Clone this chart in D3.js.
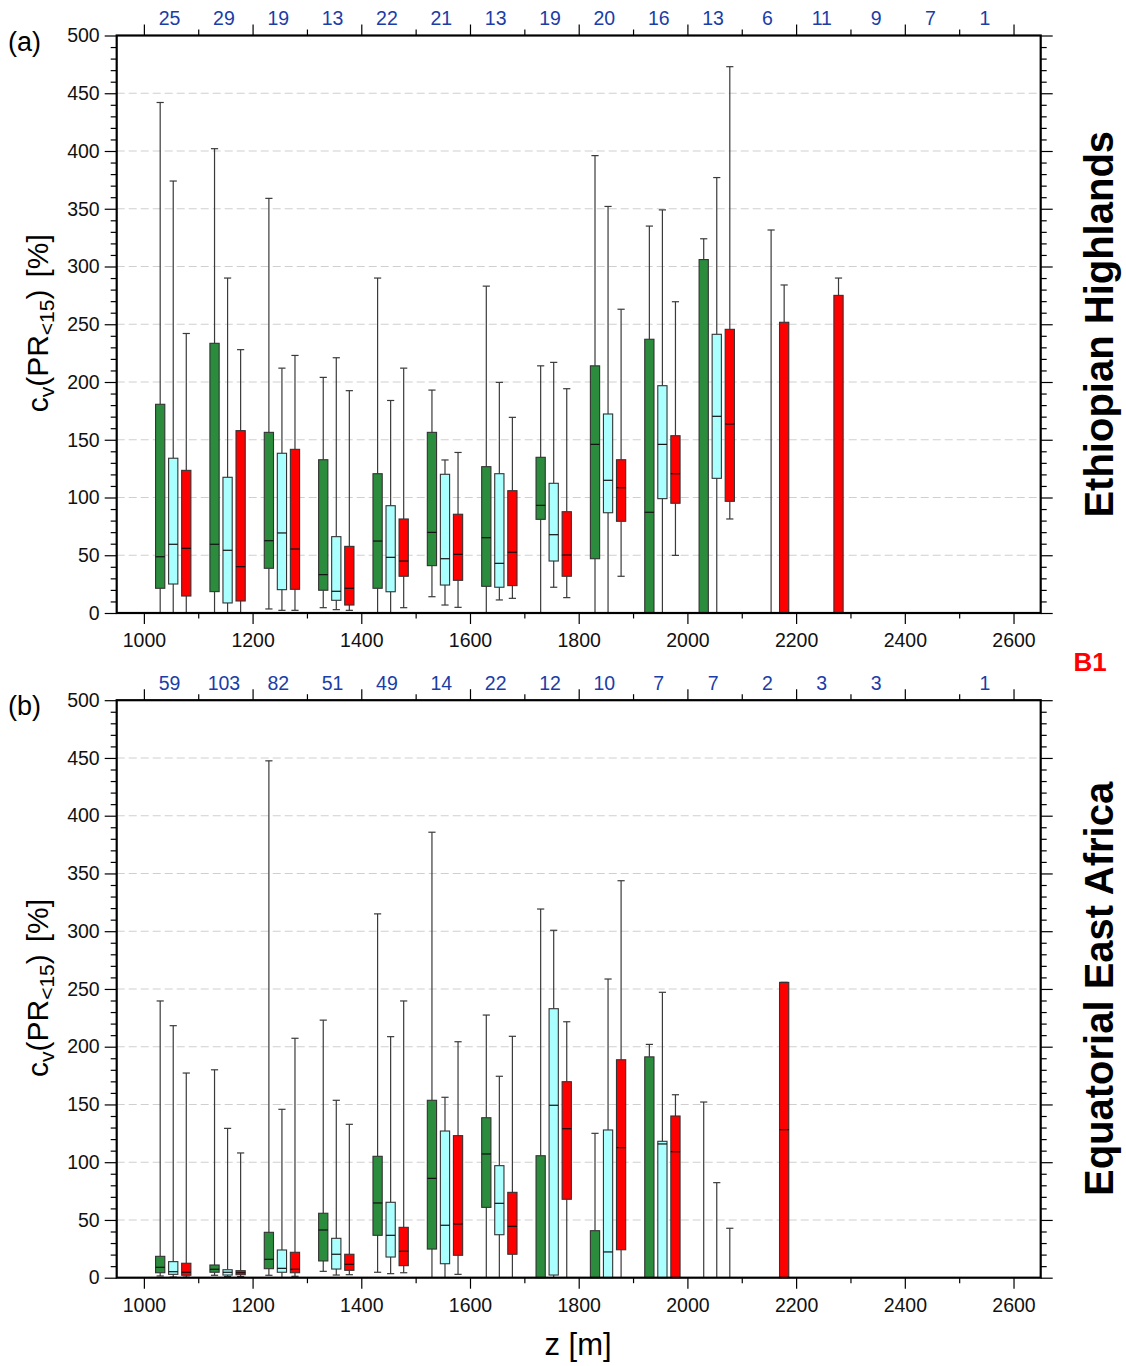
<!DOCTYPE html>
<html>
<head>
<meta charset="utf-8">
<script src="https://cdn.jsdelivr.net/npm/d3@7"></script>
<style>
  html, body { margin: 0; padding: 0; background: #fff; }
  svg { display: block; font-family: "Liberation Sans", Arial, sans-serif; }
</style>
</head>
<body>
<svg id="chart" width="1126" height="1366"></svg>
<script>
// ---------------- DATA ----------------
// altitude bins (lower edge, m)
const bins = [1000, 1100, 1200, 1300, 1400, 1500, 1600, 1700, 1800, 1900, 2000, 2100, 2200, 2300, 2400, 2500];
const xTicksMajor = [1000, 1200, 1400, 1600, 1800, 2000, 2200, 2400, 2600];
const yTicksMajor = [0, 50, 100, 150, 200, 250, 300, 350, 400, 450, 500];
const seriesNames = ["green", "cyan", "red"];

// station counts per bin
const countsA = ["25", "29", "19", "13", "22", "21", "13", "19", "20", "16", "13", "6", "11", "9", "7", "1"];
const countsB = ["59", "103", "82", "51", "49", "14", "22", "12", "10", "7", "7", "2", "3", "3", "", "1"];

// box statistics per bin: [min, q1, median, q3, max]  (cv in %)
const Z = [0, 0, 0, 0, 0];
const aGreen = [
  [0, 21.4, 48.7, 180.7, 442], [0, 18.5, 59.5, 233.5, 402], [3.5, 38.7, 62.6, 156.4, 359],
  [4.6, 19.7, 33.2, 132.7, 204], [0, 21.4, 62.3, 120.6, 290], [14.1, 41, 69.8, 156.4, 193],
  [0, 23.1, 65.2, 126.7, 283], [0, 81.1, 93.2, 134.8, 214], [0, 47, 146, 214, 396],
  [0, 0, 87.2, 237, 335], [0, 0, 0, 306, 324], Z, Z, Z, Z, Z];
const aCyan = [
  [0, 25.1, 59.5, 134, 374], [0, 8.7, 54.3, 117.5, 290], [2.3, 20.2, 69.3, 138.3, 212],
  [2.9, 11, 18.8, 66.1, 221], [0, 18.4, 48.2, 92.9, 184], [6.9, 24.2, 47, 120.1, 132.5],
  [11.3, 22.3, 43, 120.6, 199.7], [22.3, 45, 67.8, 112.3, 217], [0, 86.8, 114.9, 172.3, 352],
  [0, 99, 146, 196.8, 349], [0, 116.6, 170.3, 241.3, 377], [0, 0, 0, 0, 331.6], Z, Z, Z, Z];
const aRed = [
  [0, 14.7, 56, 123.5, 242], [0, 10.4, 40.1, 157.9, 228], [2.3, 20.5, 55.4, 141.7, 223],
  [2.3, 6.9, 21.4, 57.7, 192.5], [4.6, 31.8, 45, 81.4, 212], [4.9, 28.3, 50.8, 85.5, 139],
  [12.7, 23.7, 52.6, 105.9, 169.4], [13.3, 31.8, 50.2, 87.7, 194.2], [31.8, 79.4, 108.5, 132.7, 263],
  [49.9, 95, 120.6, 153.5, 269.5], [81.4, 96.7, 163.6, 245.6, 473], [0, 0, 0, 251.7, 284],
  [0, 0, 0, 275, 290], Z, Z, Z];

const bGreen = [
  [1.5, 4.3, 9, 18.5, 239.6], [2.1, 4.7, 7.3, 11, 180], [2.1, 7.8, 15.9, 39.3, 447.5],
  [5.5, 14.5, 41.3, 55.8, 223], [4.7, 36.7, 64.7, 105.1, 315], [0, 24.8, 86, 153.6, 385.7],
  [0, 60.9, 107.1, 138.5, 227.4], [0, 0, 0, 105.6, 319.2], [0, 0, 0, 40.7, 125],
  [0, 0, 0, 191.2, 202], [0, 0, 0, 0, 152.1], Z, Z, Z, Z, Z];
const bCyan = [
  [0.5, 2.9, 5.2, 13.9, 218.2], [1, 2.3, 4.7, 6.9, 129.3], [0, 4.7, 8.1, 24, 145.8],
  [2.3, 7.5, 20.3, 34.1, 153.6], [3.5, 17.9, 36.7, 65.3, 208.7], [0, 12.1, 45.4, 127, 156.2],
  [0, 37.2, 64.4, 97, 174.4], [0, 2.3, 149.3, 232.9, 300.8], [0, 0, 22.3, 127.9, 258.6],
  [0, 0, 115.8, 118.1, 247.1], [0, 0, 0, 0, 82.3], Z, Z, Z, Z, Z];
const bRed = [
  [0.5, 2.1, 4.7, 12.5, 177.2], [1, 2.6, 4.3, 6.1, 108], [1.2, 4.3, 7.3, 22, 207.3],
  [2.6, 6.4, 11.6, 20.3, 132.8], [4.3, 10.4, 22.9, 43.6, 239.6], [2.9, 19.4, 46.5, 123, 204.3],
  [0, 20.3, 44.5, 73.9, 209], [0, 67.9, 129, 169.7, 221.6], [0, 24.2, 112.6, 188.7, 343.7],
  [0, 0, 109.1, 140, 158.4], [0, 0, 0, 0, 42.8], [0, 0, 128.2, 255.7, 255.7], Z, Z, Z, Z];

// ---------------- STYLE / LAYOUT ----------------
const colors = { green: "#2a8c3c", cyan: "#aaffff", red: "#ff0000" };
const seriesOffset = { green: 30, cyan: 54, red: 78 };   // metres from bin lower edge
const boxWidthM = 17;
const font = '"Liberation Sans", Arial, sans-serif';
const svg = d3.select("#chart");

const x = d3.scaleLinear().domain([950, 2650]).range([116.7, 1040.7]);

const panels = [
  { id: "a", label: "(a)", top: 35.5, bottom: 613, counts: countsA,
    data: { green: aGreen, cyan: aCyan, red: aRed }, region: "Ethiopian Highlands" },
  { id: "b", label: "(b)", top: 700.2, bottom: 1277.7, counts: countsB,
    data: { green: bGreen, cyan: bCyan, red: bRed }, region: "Equatorial East Africa" }
];

panels.forEach(p => {
  const y = d3.scaleLinear().domain([0, 500]).range([p.bottom, p.top]);
  const g = svg.append("g");

  // grid
  g.append("g").selectAll("line").data(yTicksMajor.filter(v => v > 0 && v < 500)).join("line")
    .attr("x1", x(950)).attr("x2", x(2650))
    .attr("y1", d => y(d)).attr("y2", d => y(d))
    .attr("stroke", "#cfcfcf").attr("stroke-width", 1.1).attr("stroke-dasharray", "8,4");

  // boxes
  seriesNames.forEach(s => {
    const arr = p.data[s];
    const gs = g.append("g");
    arr.forEach((st, i) => {
      const [mn, q1, md, q3, mx] = st;
      if (mx <= 0) return;
      const cx = x(bins[i] + seriesOffset[s]);
      const hw = (x(bins[i] + seriesOffset[s] + boxWidthM / 2) - cx);
      // whiskers
      gs.append("line").attr("x1", cx).attr("x2", cx).attr("y1", y(mx)).attr("y2", y(q3))
        .attr("stroke", "#3a3a3a").attr("stroke-width", 1.2);
      gs.append("line").attr("x1", cx).attr("x2", cx).attr("y1", y(q1)).attr("y2", y(mn))
        .attr("stroke", "#3a3a3a").attr("stroke-width", 1.2);
      gs.append("line").attr("x1", cx - 3.6).attr("x2", cx + 3.6).attr("y1", y(mx)).attr("y2", y(mx))
        .attr("stroke", "#3a3a3a").attr("stroke-width", 1.2);
      if (mn > 0) {
        gs.append("line").attr("x1", cx - 3.6).attr("x2", cx + 3.6).attr("y1", y(mn)).attr("y2", y(mn))
          .attr("stroke", "#3a3a3a").attr("stroke-width", 1.2);
      }
      if (q3 > q1) {
        gs.append("rect").attr("x", cx - hw).attr("width", 2 * hw)
          .attr("y", y(q3)).attr("height", y(q1) - y(q3))
          .attr("fill", colors[s]).attr("stroke", "#333").attr("stroke-width", 1.1);
        if (md > 0) {
          gs.append("line").attr("x1", cx - hw).attr("x2", cx + hw).attr("y1", y(md)).attr("y2", y(md))
            .attr("stroke", "#111").attr("stroke-width", 1.2);
        }
      }
    });
  });

  // axes
  const styleAxis = sel => {
    sel.select(".domain").remove();
    sel.selectAll("line").attr("stroke", "#000").attr("stroke-width", 1.2);
    sel.selectAll("text").attr("font-family", font).attr("font-size", "19.5px").attr("fill", "#111");
  };
  // left
  g.append("g").attr("transform", `translate(${x(950)},0)`)
    .call(d3.axisLeft(y).tickValues(d3.range(0, 501, 10).filter(v => v % 50)).tickSize(6).tickFormat(""))
    .call(styleAxis);
  g.append("g").attr("transform", `translate(${x(950)},0)`)
    .call(d3.axisLeft(y).tickValues(yTicksMajor).tickSize(12).tickPadding(5).tickFormat(d3.format("d")))
    .call(styleAxis);
  // right
  g.append("g").attr("transform", `translate(${x(2650)},0)`)
    .call(d3.axisRight(y).tickValues(d3.range(0, 501, 10).filter(v => v % 50)).tickSize(6).tickFormat(""))
    .call(styleAxis);
  g.append("g").attr("transform", `translate(${x(2650)},0)`)
    .call(d3.axisRight(y).tickValues(yTicksMajor).tickSize(12).tickFormat(""))
    .call(styleAxis);
  // bottom
  g.append("g").attr("transform", `translate(0,${p.bottom})`)
    .call(d3.axisBottom(x).tickValues(d3.range(1100, 2600, 200)).tickSize(5.5).tickFormat(""))
    .call(styleAxis);
  g.append("g").attr("transform", `translate(0,${p.bottom})`)
    .call(d3.axisBottom(x).tickValues(xTicksMajor).tickSize(11).tickPadding(9).tickFormat(d3.format("d")))
    .call(styleAxis);
  // top
  g.append("g").attr("transform", `translate(0,${p.top})`)
    .call(d3.axisTop(x).tickValues(d3.range(1100, 2600, 200)).tickSize(6).tickFormat(""))
    .call(styleAxis);
  g.append("g").attr("transform", `translate(0,${p.top})`)
    .call(d3.axisTop(x).tickValues(xTicksMajor).tickSize(11).tickFormat(""))
    .call(styleAxis);

  // frame
  g.append("rect").attr("x", x(950)).attr("y", y(500))
    .attr("width", x(2650) - x(950)).attr("height", y(0) - y(500))
    .attr("fill", "none").attr("stroke", "#000").attr("stroke-width", 2.2);

  // counts
  g.append("g").selectAll("text").data(p.counts).join("text")
    .attr("x", (d, i) => x(bins[i] + 50) - 1.5)
    .attr("y", p.top - 10.5)
    .attr("text-anchor", "middle")
    .attr("font-family", font).attr("font-size", "19.5px").attr("fill", "#1a3da8")
    .text(d => d);

  // panel label
  g.append("text").attr("x", 8).attr("y", p.top + 15)
    .attr("font-family", font).attr("font-size", "27px").attr("fill", "#000").text(p.label);

  // y label
  const ymid = (p.top + p.bottom) / 2 - 1;
  const yl = g.append("text").attr("transform", `translate(48,${ymid}) rotate(-90)`)
    .attr("text-anchor", "middle").attr("font-family", font).attr("font-size", "30px").attr("fill", "#000");
  yl.append("tspan").text("c");
  yl.append("tspan").attr("font-size", "21px").attr("dy", 6).text("v");
  yl.append("tspan").attr("dy", -6).text("(PR");
  yl.append("tspan").attr("font-size", "21px").attr("dy", 6).text("<15");
  yl.append("tspan").attr("dy", -6).text(")");
  yl.append("tspan").attr("dx", 12).text("[%]");

  // region label
  g.append("text").attr("transform", `translate(1113,${(p.top + p.bottom) / 2}) rotate(-90)`)
    .attr("text-anchor", "middle").attr("font-family", font).attr("font-weight", "bold")
    .attr("font-size", "40px").attr("fill", "#000").text(p.region);
});

// B1 tag
svg.append("text").attr("x", 1090).attr("y", 671).attr("text-anchor", "middle")
  .attr("font-family", font).attr("font-weight", "bold").attr("font-size", "26px")
  .attr("fill", "#ff0000").text("B1");

// x label
svg.append("text").attr("x", 578).attr("y", 1355).attr("text-anchor", "middle")
  .attr("font-family", font).attr("font-size", "31px").attr("fill", "#000").text("z [m]");
</script>
</body>
</html>
